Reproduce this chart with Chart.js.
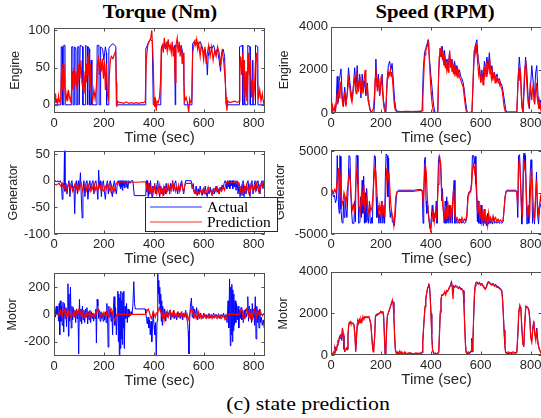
<!DOCTYPE html>
<html><head><meta charset="utf-8">
<script src="https://cdn.jsdelivr.net/npm/chart.js@4.4.1/dist/chart.umd.min.js"></script>
<style>
html,body{margin:0;padding:0;background:#fff;}
body{width:541px;height:418px;overflow:hidden;position:relative;}
canvas{position:absolute;}
.ttl{position:absolute;font-family:"Liberation Serif","Times New Roman",serif;font-weight:bold;font-size:18.5px;line-height:1;color:#000;white-space:nowrap;transform:translateX(-50%) scaleX(1.12);}
.cap{position:absolute;font-family:"Liberation Serif","Times New Roman",serif;font-size:19.5px;line-height:1;color:#000;white-space:nowrap;transform:translateX(-50%) scaleX(1.12);}
</style></head><body>
<div class="ttl" style="left:160px;top:3px">Torque (Nm)</div>
<div class="ttl" style="left:435px;top:3px">Speed (RPM)</div>
<div class="cap" style="left:308px;top:394px">(c) state prediction</div>
<script>
// ---------- axis ticks ----------
const TIME_TICKS = [0, 200, 400, 600, 800];
const TIME_MAX = 846;
const engineTorqueTicks = [0, 50, 100];
const generatorTorqueTicks = [-100, -50, 0, 50];
const motorTorqueTicks = [-200, 0, 200];
const engineSpeedTicks = [0, 2000, 4000];
const generatorSpeedTicks = [-5000, 0, 5000];
const motorSpeedTicks = [0, 2000, 4000];
const seriesNames = ['Actual', 'Prediction'];

// ---------- Engine torque (Nm) [time, value] ----------
const engineTorqueActual = [[0,0],[28,0],[29,78],[33,78],[34,0],[38,0],[39,80],[44,80],[45,0],[70,0],[71,78],[76,78],[77,0],[82,0],[83,78],[88,75],[89,0],[94,0],[95,78],[100,78],[101,0],[104,0],[105,80],[115,78],[116,0],[126,0],[127,80],[133,78],[134,0],[136,0],[137,78],[142,75],[143,0],[148,0],[149,60],[152,0],[172,0],[173,80],[180,80],[181,0],[186,0],[187,78],[195,75],[200,60],[206,78],[210,70],[211,0],[219,0],[220,76],[228,80],[236,82],[244,80],[248,78],[250,0],[366,0],[368,75],[374,80],[380,85],[388,88],[394,85],[398,0],[428,0],[431,78],[440,82],[447,75],[454,85],[462,78],[470,80],[478,75],[484,80],[486,0],[488,80],[496,78],[503,72],[510,80],[516,70],[520,65],[522,0],[553,0],[556,82],[562,85],[570,88],[578,80],[586,85],[594,78],[600,70],[606,75],[612,60],[615,40],[618,65],[625,78],[632,75],[640,80],[648,70],[655,75],[662,60],[668,45],[672,70],[678,75],[684,65],[690,0],[743,0],[744,78],[756,80],[757,0],[762,0],[763,60],[766,0],[776,0],[777,80],[786,78],[787,0],[796,0],[797,60],[799,0],[807,0],[808,80],[817,78],[818,0],[846,0]];
const engineTorquePredicted = [[0,12],[3,2],[6,15],[9,3],[12,8],[15,2],[18,12],[21,5],[24,3],[27,10],[30,40],[32,55],[34,20],[36,50],[38,30],[40,55],[43,25],[46,10],[48,5],[52,15],[55,5],[58,20],[62,10],[66,5],[70,15],[73,45],[76,20],[80,50],[84,25],[88,45],[92,20],[96,30],[100,55],[104,35],[108,60],[112,30],[116,20],[120,45],[124,15],[128,55],[131,30],[134,65],[137,40],[140,70],[143,20],[146,55],[150,15],[155,5],[160,20],[165,8],[170,25],[174,55],[178,62],[182,40],[186,60],[190,45],[194,62],[198,35],[202,60],[206,20],[210,55],[214,15],[218,5],[222,40],[226,60],[230,65],[236,62],[242,68],[247,72],[250,30],[252,-3],[255,5],[262,3],[270,3],[280,2],[290,4],[300,2],[310,3],[320,2],[330,3],[340,2],[350,3],[360,3],[366,5],[370,60],[376,80],[382,85],[388,90],[392,100],[395,80],[398,55],[401,10],[404,-3],[407,5],[410,-8],[413,5],[418,3],[423,10],[427,30],[430,75],[434,80],[438,70],[442,90],[446,78],[450,82],[454,72],[458,88],[462,75],[466,80],[470,70],[474,85],[478,65],[482,78],[486,30],[489,80],[494,90],[498,70],[502,85],[506,65],[510,80],[514,55],[518,70],[521,30],[524,5],[530,10],[535,3],[540,-10],[544,8],[548,3],[552,5],[556,70],[560,78],[564,85],[568,80],[572,88],[576,75],[580,82],[586,65],[590,80],[596,72],[600,60],[605,78],[610,55],[615,70],[620,80],[626,65],[632,78],[638,60],[644,72],[650,65],[656,78],[662,70],[668,55],[674,72],[680,60],[686,35],[690,10],[693,-8],[697,5],[705,3],[715,4],[725,5],[735,3],[742,5],[745,55],[748,65],[752,40],[756,70],[760,20],[763,60],[766,10],[770,45],[773,5],[776,20],[780,70],[784,40],[788,60],[792,10],[796,35],[800,5],[804,25],[808,60],[812,70],[816,30],[820,8],[825,20],[830,5],[835,15],[840,3],[846,8]];

// ---------- Engine speed (RPM) ----------
const engineSpeedActual = [[0,1000],[2,100],[5,0],[10,200],[15,100],[20,300],[25,1700],[28,500],[33,1500],[40,2050],[45,800],[50,300],[55,1200],[60,400],[65,900],[70,2100],[75,1500],[80,1000],[85,600],[90,1300],[95,2100],[100,1200],[105,2200],[110,1000],[115,1800],[120,700],[125,1800],[130,1000],[135,1500],[140,800],[145,1400],[150,500],[155,300],[160,0],[172,0],[175,600],[180,2500],[185,1200],[190,1800],[195,800],[200,1300],[205,1800],[210,600],[215,300],[220,0],[225,1500],[230,2200],[235,2400],[240,2000],[245,2300],[250,1500],[255,600],[260,200],[265,80],[280,60],[300,80],[320,60],[340,80],[360,70],[365,100],[370,2000],[375,2800],[380,3000],[385,3200],[390,3400],[395,2500],[400,1800],[405,1200],[410,500],[415,100],[420,0],[428,0],[432,2000],[438,3000],[442,2600],[446,3100],[450,2400],[455,2900],[460,2300],[465,2500],[470,2100],[475,2800],[480,2200],[485,2500],[490,2000],[495,2400],[500,1900],[505,2200],[510,1800],[515,2000],[520,1700],[525,1600],[530,1400],[535,1000],[540,500],[545,100],[550,0],[565,0],[570,1500],[575,2800],[580,3200],[585,3400],[590,2500],[595,2200],[600,1600],[605,2000],[610,1500],[615,2400],[620,2000],[625,2600],[630,2100],[635,2800],[640,1900],[645,2200],[650,1700],[655,1900],[660,1600],[665,1800],[670,1500],[675,1600],[680,1400],[685,1300],[690,1000],[695,600],[700,200],[705,0],[745,0],[750,1500],[755,2600],[760,1800],[765,400],[770,0],[775,1200],[780,2600],[785,2000],[790,800],[795,200],[800,1200],[805,2200],[810,1500],[815,500],[820,1800],[825,2200],[830,800],[835,200],[840,600],[846,300]];
const engineSpeedPredicted = [[0,200],[3,100],[6,350],[9,150],[12,100],[15,300],[18,100],[21,500],[24,900],[27,400],[30,1100],[33,700],[36,1300],[39,1400],[42,900],[45,600],[48,300],[51,700],[54,1000],[57,500],[60,300],[64,800],[68,1200],[71,1600],[74,1300],[77,1000],[80,700],[84,500],[88,900],[92,1500],[95,1600],[98,1100],[101,900],[104,1900],[107,1400],[110,1000],[113,1500],[116,1700],[119,900],[122,1200],[125,1500],[128,900],[131,1300],[134,1700],[137,2000],[140,1200],[143,1000],[146,1300],[149,600],[152,400],[155,200],[158,100],[162,50],[166,100],[170,200],[174,800],[177,1600],[180,2100],[183,1500],[186,1000],[189,1600],[192,1300],[195,800],[198,1200],[201,1700],[204,1400],[207,900],[210,500],[213,200],[216,100],[220,200],[223,1000],[226,1600],[229,1900],[232,1700],[235,1800],[238,2000],[241,1700],[244,1900],[247,1500],[250,1000],[253,500],[256,200],[260,100],[265,50],[275,80],[290,50],[310,80],[330,60],[350,80],[365,100],[368,600],[371,1500],[374,2300],[377,2700],[380,2900],[383,3000],[386,3100],[389,3300],[392,3000],[395,2300],[398,1600],[401,1000],[404,600],[407,300],[410,100],[415,50],[420,0],[428,50],[431,1500],[434,2600],[437,3000],[440,2800],[443,3100],[446,2500],[449,2900],[452,2200],[455,2700],[458,2100],[461,2400],[464,2000],[467,2300],[470,1900],[473,2400],[476,2900],[479,2100],[482,2500],[485,1900],[488,2300],[491,1800],[494,2200],[497,1700],[500,2100],[503,1800],[506,2000],[509,1600],[512,1900],[515,1700],[518,1600],[521,1500],[524,1400],[527,1300],[530,1200],[533,900],[536,600],[539,300],[542,100],[546,0],[565,50],[568,900],[571,2000],[574,2900],[577,3100],[580,2800],[583,3200],[586,2700],[589,2200],[592,1800],[595,2100],[598,1600],[601,1400],[604,1900],[607,1500],[610,1300],[613,2100],[616,1800],[619,2200],[622,1700],[625,2400],[628,1900],[631,2100],[634,2500],[637,1800],[640,2000],[643,1600],[646,1900],[649,1500],[652,1700],[655,1800],[658,1400],[661,1600],[664,1500],[667,1700],[670,1400],[673,1500],[676,1300],[679,1400],[682,1200],[685,1100],[688,900],[691,600],[694,300],[697,150],[700,50],[745,50],[748,900],[751,1800],[754,2100],[757,1500],[760,1900],[763,800],[766,200],[769,100],[772,900],[775,1600],[778,2200],[781,2400],[784,1600],[787,1000],[790,500],[793,300],[796,800],[799,1400],[802,900],[805,600],[808,1100],[811,1300],[814,700],[817,400],[820,1000],[823,1400],[826,800],[829,500],[832,300],[835,600],[838,400],[841,200],[846,400]];

// ---------- Generator torque (Nm) ----------
const generatorTorqueActual = [[0,0],[5,0],[10,-2],[15,0],[20,-3],[25,0],[30,-5],[33,-35],[36,-5],[40,-10],[42,57],[44,-20],[48,-5],[52,-25],[56,-10],[60,0],[64,-30],[68,-5],[72,0],[76,-20],[80,-10],[83,-62],[86,-10],[90,0],[94,-25],[98,0],[102,-15],[106,15],[109,-25],[113,-70],[116,-20],[120,0],[124,-30],[128,-5],[132,0],[136,-35],[140,-10],[144,0],[148,-20],[152,-5],[156,0],[160,-25],[164,-5],[168,0],[172,-15],[176,-35],[179,20],[182,-10],[186,0],[190,-30],[194,-5],[198,0],[202,-20],[206,-35],[210,-10],[214,0],[218,-25],[222,-5],[226,0],[230,-20],[234,-30],[238,-10],[242,0],[246,-15],[250,-25],[254,-5],[258,0],[262,-10],[264,0],[266,-15],[268,0],[270,-12],[272,0],[274,-18],[276,0],[278,-10],[280,0],[284,-14],[286,0],[290,-12],[292,0],[296,-15],[300,0],[305,-5],[310,0],[316,0],[322,-28],[368,-28],[370,0],[372,-20],[375,0],[378,-30],[381,-5],[384,-25],[387,0],[390,-20],[393,-30],[396,-10],[400,-15],[404,-5],[408,-25],[412,-10],[416,0],[420,-20],[424,-30],[428,-10],[432,-25],[436,-15],[440,-28],[444,-10],[448,-25],[452,-5],[456,-20],[460,-10],[464,-25],[468,-5],[472,-15],[476,0],[480,-20],[484,-5],[488,0],[492,-15],[496,-25],[500,-10],[504,-20],[508,-5],[512,0],[516,-15],[520,-25],[524,-10],[528,0],[550,0],[554,-15],[558,-5],[562,-20],[566,-25],[570,-10],[574,-28],[578,-15],[582,-25],[586,-10],[590,-20],[594,-28],[598,-15],[602,-25],[606,-10],[610,-22],[614,-30],[618,-18],[622,-25],[626,-12],[630,-22],[634,-28],[638,-15],[642,-25],[646,-18],[650,-10],[654,-22],[658,-15],[662,-25],[666,-12],[670,-20],[674,-8],[678,-15],[682,-5],[686,0],[690,-5],[693,-15],[696,0],[699,-12],[702,0],[705,-15],[708,0],[711,-10],[714,0],[717,-15],[720,0],[723,-12],[726,0],[730,-18],[734,0],[738,-25],[742,-5],[746,-30],[750,-10],[754,-28],[758,0],[762,-30],[766,-10],[770,-25],[774,-5],[778,0],[782,-20],[786,-30],[790,-5],[794,0],[798,-25],[802,-10],[806,0],[810,-20],[814,-5],[818,0],[822,-15],[826,-25],[830,-5],[834,0],[838,-15],[842,0],[846,-5]];
const generatorTorquePredicted = [[0,-6],[10,-8],[20,-5],[30,-12],[35,-5],[40,-15],[45,-8],[50,-18],[55,-10],[60,-5],[65,-15],[70,-8],[75,-20],[80,-12],[85,-5],[90,-15],[95,-8],[100,-18],[105,-10],[110,-5],[115,-20],[120,-12],[125,-8],[130,-18],[135,-5],[140,-12],[145,-20],[150,-10],[155,-15],[160,-5],[165,-18],[170,-10],[175,-20],[180,-8],[185,-15],[190,-5],[195,-18],[200,-20],[205,-10],[210,-15],[215,-5],[220,-12],[225,-20],[230,-8],[235,-15],[240,-22],[245,-12],[250,-5],[255,-2],[260,-3],[300,-2],[320,-3],[330,-3],[360,-2],[368,-3],[372,-15],[376,-20],[380,-8],[384,-22],[388,-12],[392,-25],[396,-15],[400,-22],[404,-10],[408,-18],[412,-25],[416,-12],[420,-20],[424,-8],[428,-22],[432,-15],[436,-25],[440,-12],[444,-20],[448,-10],[452,-22],[456,-15],[460,-8],[464,-20],[468,-12],[472,-18],[476,-5],[480,-15],[484,-10],[488,-20],[492,-12],[496,-18],[500,-8],[504,-20],[508,-12],[512,-5],[516,-15],[520,-20],[524,-10],[528,-5],[550,-5],[554,-10],[558,-15],[562,-22],[566,-18],[570,-25],[576,-20],[582,-25],[588,-18],[594,-22],[600,-15],[606,-25],[612,-20],[618,-12],[624,-22],[630,-18],[636,-25],[642,-15],[648,-20],[654,-12],[660,-22],[666,-15],[672,-20],[678,-12],[684,-18],[688,-8],[692,-3],[740,-3],[744,-12],[748,-20],[752,-10],[756,-18],[760,-25],[764,-12],[768,-20],[772,-8],[776,-15],[780,-22],[784,-10],[788,-18],[792,-5],[796,-15],[800,-20],[804,-10],[808,-18],[812,-5],[816,-12],[820,-20],[824,-10],[828,-15],[832,-5],[836,-10],[840,-3],[846,-5]];

// ---------- Generator speed (RPM) ----------
const generatorSpeedActual = [[0,3800],[2,300],[6,0],[10,-500],[14,-300],[18,-1200],[22,-800],[25,4500],[28,4500],[30,-1500],[33,-2500],[35,4500],[38,4400],[40,-2000],[44,-3600],[48,-3700],[50,-1000],[53,-3000],[56,-500],[60,-2000],[64,-3000],[68,0],[72,4500],[76,4400],[79,500],[82,-2000],[86,-3700],[92,-3700],[95,-1000],[98,-3500],[101,4500],[106,4500],[108,1000],[111,-3700],[116,-3600],[119,-500],[122,-3000],[125,1500],[128,-2500],[131,2000],[134,-3700],[137,0],[140,-3600],[143,500],[146,-3000],[150,-3700],[154,-1000],[157,-3500],[160,-3700],[163,-3000],[166,-3700],[170,1000],[174,4500],[178,4400],[181,-500],[184,-3000],[188,-1500],[192,-3700],[196,-2500],[200,-3700],[204,-1000],[208,-3700],[212,-2000],[215,-3700],[218,2000],[221,4700],[225,4500],[228,-500],[231,4200],[234,-1500],[238,-3000],[242,-2000],[246,-3500],[250,-3700],[254,-4000],[258,-2500],[262,-500],[266,200],[270,300],[300,300],[330,300],[360,400],[366,300],[369,-3700],[372,-500],[375,4000],[378,4300],[381,-1000],[384,-2500],[388,-1500],[392,-3000],[396,-4300],[399,-4500],[402,-3000],[406,-1500],[410,-3500],[414,-2500],[418,-3000],[422,-1000],[425,-3700],[428,500],[431,4000],[434,4500],[437,4500],[440,3000],[444,-1000],[447,500],[450,-2000],[454,-3700],[458,-1000],[461,-3700],[464,-500],[467,-3500],[470,-3700],[474,-1500],[478,-3700],[482,-2000],[486,-3700],[490,0],[494,1500],[497,-3700],[501,-3000],[505,-3700],[510,-3600],[515,-3700],[520,-3200],[525,-3700],[530,-3500],[535,-3700],[540,-3600],[545,-3000],[548,-500],[552,0],[556,200],[560,200],[564,1500],[567,4500],[572,4500],[575,3500],[578,4400],[581,1000],[584,-500],[587,-3500],[590,-1000],[593,-3700],[596,-2500],[599,-3800],[602,-1500],[605,-3700],[608,-3000],[611,-4000],[614,-2000],[617,-3700],[620,-3000],[624,-4000],[628,-2500],[632,-3800],[636,-3000],[640,-3700],[644,-3500],[648,-3800],[652,-3000],[656,-3700],[660,-3500],[665,-3700],[670,-3500],[675,-3700],[680,-3600],[685,-3700],[690,-3500],[694,-2000],[698,-500],[702,200],[706,300],[740,300],[745,200],[749,-3000],[752,4500],[756,4600],[759,2000],[762,-500],[765,-3800],[768,-2000],[771,4000],[774,4800],[777,3000],[780,4500],[783,-1000],[786,-3800],[790,-2000],[793,-3700],[796,0],[799,2500],[802,4000],[805,2000],[808,-3700],[812,-2000],[816,-3800],[820,-1000],[824,2500],[828,-2500],[832,-3800],[836,-2000],[840,-1500],[846,-1000]];
const generatorSpeedPredicted = [[0,400],[5,300],[10,0],[15,400],[20,0],[25,1500],[30,3000],[33,500],[36,2500],[40,-500],[44,-1500],[48,-1000],[52,0],[56,-500],[60,-1500],[65,200],[70,1500],[74,2500],[78,1000],[82,-1000],[86,-2000],[90,-1500],[95,-2500],[100,1500],[104,3000],[108,2000],[112,-1500],[116,-2500],[120,-1000],[124,500],[128,-1500],[132,1000],[136,-2000],[140,-1500],[144,-500],[148,-2000],[152,-2500],[156,-1500],[160,-2200],[164,-1800],[168,-500],[172,1500],[176,3000],[180,2500],[184,0],[188,-1500],[192,-2500],[196,-1500],[200,-2500],[204,-1000],[208,-2800],[212,-1500],[216,-3000],[220,500],[224,3000],[228,1500],[232,2500],[236,500],[240,-1500],[244,-2500],[248,-3000],[252,-4000],[256,-2500],[260,-500],[264,100],[268,150],[300,200],[330,150],[360,300],[366,200],[370,-1500],[374,1500],[378,3500],[382,2500],[386,-500],[390,-2500],[394,-3500],[398,-4000],[400,-4800],[403,-3500],[406,-3000],[410,-2000],[414,-3500],[418,-2500],[422,-3000],[426,-1500],[430,1000],[433,3500],[436,4300],[440,3500],[444,0],[448,-1500],[452,-2500],[456,-3000],[460,-1500],[464,-3200],[468,-1000],[472,-2500],[476,-3500],[480,-1500],[484,-3000],[488,-1000],[492,500],[496,-2500],[500,-3300],[505,-3000],[510,-3500],[515,-3200],[520,-3500],[525,-3000],[530,-3500],[535,-3200],[540,-3400],[545,-2500],[550,-500],[555,0],[560,100],[564,1000],[568,3000],[572,3500],[576,2500],[580,3500],[584,500],[588,-2500],[592,-1500],[596,-3000],[600,-2000],[604,-3500],[608,-2500],[612,-3800],[616,-2000],[620,-3500],[624,-3000],[628,-4000],[632,-2500],[636,-3500],[640,-3000],[645,-3500],[650,-2800],[655,-3300],[660,-3000],[665,-3500],[670,-3200],[675,-3500],[680,-3300],[685,-3500],[690,-3300],[694,-2000],[698,-500],[702,100],[706,200],[740,200],[745,100],[749,-1500],[752,3500],[756,4000],[760,1500],[764,-2000],[768,-3000],[772,2500],[776,3500],[780,2500],[784,-500],[788,-3000],[792,-1500],[796,-3200],[800,500],[804,3000],[808,1000],[812,-2500],[816,-3000],[820,-500],[824,1500],[828,-1500],[832,-2500],[836,-1500],[840,-500],[846,-1500]];

// ---------- Motor torque (Nm) ----------
const motorTorqueActual = [[0,0],[3,50],[6,-20],[9,60],[12,0],[15,60],[18,-50],[21,80],[23,-150],[25,100],[28,-50],[30,60],[33,-80],[36,90],[39,-130],[42,80],[45,-30],[48,50],[50,-90],[53,40],[56,225],[58,-160],[60,150],[63,-50],[66,200],[69,-100],[72,60],[75,-40],[78,50],[81,-20],[84,30],[87,-60],[90,40],[93,-30],[96,20],[99,-290],[102,110],[105,-50],[108,40],[111,-70],[114,60],[117,-40],[120,30],[123,-60],[126,40],[129,-20],[132,50],[135,-70],[138,20],[141,-40],[144,30],[147,-60],[150,20],[153,-30],[156,10],[159,-50],[162,0],[165,-30],[168,40],[170,-210],[173,110],[176,60],[179,-30],[182,30],[185,-50],[188,20],[191,-30],[194,10],[197,-50],[200,0],[203,-40],[206,20],[209,-60],[212,80],[215,-40],[217,-240],[220,60],[223,-20],[226,30],[229,-50],[232,20],[235,-150],[238,40],[241,130],[244,-80],[247,50],[250,-150],[253,0],[256,170],[258,-200],[260,150],[262,-300],[264,120],[266,-250],[268,170],[270,-180],[272,100],[274,-220],[276,160],[278,-100],[280,170],[282,-250],[285,60],[288,-30],[291,80],[294,-60],[297,40],[300,-20],[303,30],[306,-10],[309,20],[312,0],[316,60],[320,240],[323,80],[326,40],[330,40],[365,40],[368,10],[371,-30],[374,-70],[377,-20],[380,-100],[383,-40],[386,-150],[389,-50],[392,-200],[395,-80],[398,20],[401,-80],[404,-150],[407,-60],[410,-300],[413,-50],[416,300],[418,150],[420,250],[422,80],[424,200],[426,20],[428,150],[430,-50],[432,100],[434,-80],[436,60],[440,-30],[444,40],[448,-50],[452,20],[456,-20],[460,10],[464,30],[468,-40],[472,10],[476,-20],[480,30],[484,-30],[488,0],[492,-40],[496,20],[500,-20],[504,10],[508,-30],[512,20],[516,-40],[520,10],[524,-20],[528,30],[532,-30],[536,-60],[538,-120],[541,-290],[544,-40],[547,60],[551,120],[554,-20],[557,60],[560,-30],[564,40],[568,-20],[572,50],[576,-40],[580,20],[584,-30],[588,10],[592,-20],[596,-30],[600,10],[605,-20],[610,0],[615,-25],[620,5],[625,-30],[630,0],[635,-20],[640,10],[645,-25],[650,0],[655,-20],[660,5],[665,-30],[670,0],[675,-20],[680,10],[685,-30],[690,0],[694,-60],[698,100],[701,-100],[704,260],[707,-230],[709,200],[711,-150],[713,220],[715,-200],[717,180],[719,-120],[721,150],[723,-80],[726,100],[729,-60],[732,80],[735,-40],[738,60],[741,-100],[744,30],[747,-30],[750,50],[753,-40],[756,20],[759,-60],[762,30],[765,-30],[768,40],[771,-20],[774,10],[777,130],[780,-50],[783,60],[786,-30],[789,40],[792,-60],[795,80],[798,-20],[801,40],[804,-80],[807,130],[810,-180],[813,60],[816,-60],[819,30],[822,-100],[825,40],[828,-60],[831,-20],[835,-80],[839,-40],[843,-100],[846,-60]];
const motorTorquePredicted = [[0,0],[10,0],[15,5],[20,-10],[25,30],[28,0],[32,-15],[36,20],[40,40],[44,10],[48,-20],[52,10],[56,-10],[60,30],[64,0],[68,-20],[72,10],[76,-5],[80,20],[84,-10],[88,0],[92,30],[96,10],[100,40],[104,20],[108,0],[112,-15],[116,20],[120,0],[124,-20],[128,10],[132,-10],[136,15],[140,-5],[144,10],[148,-20],[152,0],[156,-10],[160,5],[164,-15],[168,0],[172,20],[176,45],[180,30],[184,0],[188,-15],[192,10],[196,-5],[200,15],[204,0],[208,-10],[212,20],[216,0],[220,-20],[224,10],[228,45],[232,30],[236,0],[240,-30],[244,-45],[248,-20],[252,0],[256,0],[300,0],[330,0],[366,0],[370,10],[374,30],[378,40],[382,20],[386,-10],[390,-30],[394,-10],[398,20],[402,0],[406,-20],[410,10],[414,0],[418,30],[422,50],[426,30],[430,10],[434,-20],[438,20],[442,-40],[446,10],[450,-10],[454,20],[458,-20],[462,0],[466,25],[470,-10],[474,10],[478,-20],[482,15],[486,-10],[490,5],[494,-15],[498,10],[502,-20],[506,0],[510,15],[514,-10],[518,5],[522,-15],[526,10],[530,-20],[534,0],[538,-40],[542,-20],[546,20],[550,40],[554,30],[558,0],[562,-20],[566,10],[570,-30],[574,-10],[578,20],[582,-20],[586,0],[590,-30],[594,-10],[598,-25],[602,0],[606,-20],[610,-30],[614,-10],[618,-25],[622,0],[626,-20],[630,-10],[634,-30],[638,-15],[642,-25],[646,-5],[650,-20],[654,-30],[658,-10],[662,-25],[666,-15],[670,-30],[674,-20],[678,-5],[682,-20],[686,-40],[690,-30],[694,0],[700,0],[740,0],[744,10],[748,30],[752,40],[756,0],[760,-40],[764,-20],[768,10],[772,40],[776,20],[780,-10],[784,30],[788,-20],[792,10],[796,-30],[800,20],[804,40],[808,0],[812,-20],[816,30],[820,10],[824,-10],[828,20],[832,0],[836,-10],[840,5],[846,0]];

// ---------- Motor speed (RPM) ----------
const motorSpeedActual = [[0,0],[5,50],[10,100],[13,80],[16,400],[19,250],[22,200],[25,450],[28,700],[31,600],[34,900],[37,800],[40,1000],[43,700],[46,1300],[49,900],[52,300],[55,150],[58,200],[62,300],[65,250],[68,900],[71,1400],[74,1600],[77,1550],[80,1600],[84,1500],[88,1550],[92,1450],[96,1000],[99,200],[102,700],[105,1400],[108,1700],[111,1500],[114,1650],[117,1600],[120,1700],[124,1650],[128,1800],[132,1750],[136,1800],[140,1850],[144,1800],[148,1850],[152,1800],[156,1700],[160,1500],[163,1000],[166,500],[169,200],[172,200],[175,800],[178,1800],[181,1950],[184,1900],[188,2000],[192,1950],[196,2050],[200,2100],[204,2000],[208,2100],[211,1900],[214,1000],[217,0],[220,200],[223,1200],[226,1900],[230,2000],[234,2200],[238,2300],[242,2500],[246,2600],[249,2550],[252,2000],[255,1000],[258,300],[261,100],[264,0],[268,100],[272,50],[276,100],[280,0],[284,80],[288,50],[292,0],[296,80],[300,50],[305,0],[310,50],[320,80],[330,60],[340,70],[350,60],[360,80],[365,100],[368,600],[371,1200],[374,1800],[377,2300],[380,2700],[383,2900],[386,3100],[389,3300],[392,3400],[395,3300],[398,2800],[401,2000],[404,1000],[407,300],[410,100],[413,0],[418,50],[422,0],[428,50],[432,100],[435,1000],[438,2000],[441,2600],[444,2900],[448,2850],[452,2950],[456,3000],[460,2950],[464,3050],[468,3100],[472,3150],[476,3250],[480,3400],[483,3550],[486,3300],[489,3250],[492,3350],[496,3300],[500,3350],[505,3300],[510,3250],[515,3300],[520,3200],[525,3200],[530,3100],[533,2500],[536,1500],[539,600],[542,100],[546,50],[550,100],[554,50],[558,100],[562,150],[564,800],[566,150],[569,600],[572,1800],[575,2800],[578,3300],[581,3500],[585,3500],[590,3450],[595,3500],[600,3400],[605,3450],[610,3350],[615,3250],[619,3200],[623,3300],[627,3450],[631,3550],[635,3500],[640,3450],[645,3400],[650,3450],[655,3350],[660,3400],[665,3300],[670,3300],[675,3250],[680,3200],[685,3100],[688,2700],[691,2000],[694,1200],[697,500],[700,100],[705,50],[710,80],[720,50],[730,100],[740,80],[745,100],[749,900],[753,2000],[757,2350],[761,2300],[765,1400],[769,600],[773,400],[777,1500],[781,2300],[785,2350],[789,2300],[793,2200],[797,1800],[801,900],[805,700],[809,1300],[813,1600],[817,1100],[821,800],[825,1300],[829,700],[833,400],[837,200],[841,150],[846,100]];
const motorSpeedPredicted = [[0,100],[5,0],[10,150],[13,100],[16,350],[19,200],[22,250],[25,500],[28,650],[31,700],[34,850],[37,950],[40,900],[43,800],[46,1300],[49,1000],[52,350],[55,200],[58,250],[62,350],[65,300],[68,1000],[71,1450],[74,1550],[77,1600],[80,1500],[84,1550],[88,1500],[92,1450],[96,900],[99,150],[102,800],[105,1500],[108,1650],[111,1550],[114,1700],[117,1550],[120,1750],[124,1600],[128,1850],[132,1700],[136,1850],[140,1800],[144,1850],[148,1800],[152,1850],[156,1650],[160,1450],[163,900],[166,450],[169,150],[172,250],[175,900],[178,1850],[181,1900],[184,1950],[188,1950],[192,2000],[196,2000],[200,2100],[204,2050],[208,2050],[211,1850],[214,900],[217,50],[220,250],[223,1300],[226,1850],[230,2050],[234,2150],[238,2350],[242,2450],[246,2650],[249,2500],[252,1900],[255,900],[258,250],[261,150],[264,50],[268,150],[272,100],[276,200],[280,50],[284,150],[288,100],[292,50],[296,150],[300,100],[305,50],[310,100],[320,100],[330,50],[340,100],[350,80],[360,100],[365,150],[368,700],[371,1300],[374,1850],[377,2350],[380,2650],[383,2950],[386,3150],[389,3250],[392,3450],[395,3250],[398,2700],[401,1900],[404,900],[407,250],[410,150],[413,50],[418,100],[422,50],[428,100],[432,150],[435,1100],[438,2100],[441,2700],[444,2850],[448,2900],[452,2900],[456,3050],[460,2900],[464,3100],[468,3050],[472,3200],[476,3300],[480,3350],[483,3500],[486,3250],[489,2700],[492,3300],[496,3250],[500,3300],[505,3250],[510,3200],[515,3250],[520,3150],[525,3150],[530,3050],[533,2450],[536,1400],[539,500],[542,150],[546,100],[550,150],[554,100],[558,150],[562,200],[564,700],[566,200],[569,650],[572,1900],[575,2900],[578,3350],[581,3450],[585,3500],[590,3400],[595,3450],[600,3350],[605,3400],[610,3300],[615,3200],[619,3150],[623,3250],[627,3400],[631,3500],[635,3450],[640,3400],[645,3350],[650,3400],[655,3300],[660,3350],[665,3250],[670,3250],[675,3200],[680,3150],[685,3050],[688,2600],[691,1900],[694,1100],[697,450],[700,150],[705,100],[710,150],[720,100],[730,150],[740,100],[745,150],[749,1000],[753,2100],[757,2400],[761,2250],[765,1300],[769,500],[773,450],[777,1600],[781,2350],[785,2300],[789,2250],[793,2150],[797,1700],[801,800],[805,600],[809,1200],[813,1650],[817,1000],[821,700],[825,1200],[829,600],[833,350],[837,250],[841,100],[846,150]];

// ---------- rendering ----------
const SANS = '"Liberation Sans", Arial, Helvetica, sans-serif';
const SERIF = '"Liberation Serif", "Times New Roman", serif';
const TXT = '#262626';

const boxPlugin = {
  id: 'matlabBox',
  afterDatasetsDraw(chart) {
    const {ctx, chartArea: a, scales} = chart;
    ctx.save();
    ctx.strokeStyle = '#505050';
    ctx.lineWidth = 1;
    const L = Math.round(a.left) + 0.5, R = Math.round(a.right) - 0.5;
    const T = Math.round(a.top) + 0.5, B = Math.round(a.bottom) - 0.5;
    ctx.strokeRect(L, T, R - L, B - T);
    ctx.beginPath();
    scales.x.ticks.forEach(t => {
      const p = Math.round(scales.x.getPixelForValue(t.value)) + 0.5;
      ctx.moveTo(p, B); ctx.lineTo(p, B - 3);
      ctx.moveTo(p, T); ctx.lineTo(p, T + 3);
    });
    scales.y.ticks.forEach(t => {
      const p = Math.round(scales.y.getPixelForValue(t.value)) + 0.5;
      ctx.moveTo(L, p); ctx.lineTo(L + 3, p);
      ctx.moveTo(R, p); ctx.lineTo(R - 3, p);
    });
    ctx.stroke();
    ctx.restore();
  }
};

const legendPlugin = {
  id: 'boxLegend',
  afterDraw(chart) {
    const {ctx, chartArea: a} = chart;
    const L = Math.round(a.right) - 120, R = Math.round(a.right) + 12;
    const T = Math.round(a.bottom) - 37, B = Math.round(a.bottom) - 3;
    ctx.save();
    ctx.fillStyle = '#ffffff';
    ctx.fillRect(L, T, R - L, B - T);
    ctx.strokeStyle = '#262626';
    ctx.lineWidth = 1;
    ctx.strokeRect(L + 0.5, T + 0.5, R - L, B - T);
    chart.data.datasets.forEach((ds, i) => {
      const y = T + 10 + i * 15;
      ctx.globalAlpha = 0.55;
      ctx.strokeStyle = ds.borderColor;
      ctx.lineWidth = 1.5;
      ctx.beginPath(); ctx.moveTo(L + 5, y); ctx.lineTo(L + 57, y); ctx.stroke();
      ctx.globalAlpha = 1;
      ctx.fillStyle = '#000';
      ctx.font = '15.5px ' + SERIF;
      ctx.textBaseline = 'middle';
      ctx.textAlign = 'left';
      ctx.fillText(ds.label, L + 62, y + 1);
    });
    ctx.restore();
  }
};

const toXY = arr => arr.map(p => ({x: p[0], y: p[1]}));
const plainNum = v => String(v);

function panel(cfg) {
  const cv = document.createElement('canvas');
  const h = 8 + (cfg.bottom - cfg.top) + 34;
  cv.width = cfg.w; cv.height = h;
  cv.style.left = cfg.x + 'px';
  cv.style.top = (cfg.top - 8) + 'px';
  cv.style.width = cfg.w + 'px';
  cv.style.height = h + 'px';
  cv.style.zIndex = cfg.z;
  document.body.appendChild(cv);
  new Chart(cv, {
    type: 'line',
    data: {
      datasets: [
        {label: seriesNames[0], data: toXY(cfg.actual), borderColor: '#0000ff', borderWidth: 1, pointRadius: 0, tension: 0, order: 2},
        {label: seriesNames[1], data: toXY(cfg.predicted), borderColor: '#ff0000', borderWidth: 1.2, pointRadius: 0, tension: 0, order: 1}
      ]
    },
    options: {
      responsive: false,
      animation: false,
      devicePixelRatio: 1,
      events: [],
      layout: {padding: {left: 0, right: cfg.padR, top: 8, bottom: 0}},
      plugins: {legend: {display: false}, tooltip: {enabled: false}},
      scales: {
        x: {
          type: 'linear', min: 0, max: TIME_MAX,
          afterBuildTicks: s => { s.ticks = TIME_TICKS.map(v => ({value: v})); },
          afterFit: s => { s.height = 34; },
          grid: {display: false, drawTicks: false},
          border: {display: false},
          ticks: {padding: 3, autoSkip: false, maxRotation: 0, callback: plainNum, font: {family: SANS, size: 13}, color: TXT},
          title: {display: true, text: 'Time (sec)', font: {family: SANS, size: 15}, color: TXT, padding: 0}
        },
        y: {
          type: 'linear', min: cfg.ymin, max: cfg.ymax,
          afterBuildTicks: s => { s.ticks = cfg.yticks.map(v => ({value: v})); },
          afterFit: s => { s.width = cfg.yW; },
          grid: {display: false, drawTicks: false},
          border: {display: false},
          ticks: {padding: cfg.tickPad, autoSkip: false, callback: plainNum, font: {family: SANS, size: 13}, color: TXT},
          title: {display: true, text: cfg.ylabel, font: {family: SANS, size: 12.5}, color: TXT, padding: {top: cfg.titlePad, bottom: 0}}
        }
      }
    },
    plugins: cfg.legend ? [boxPlugin, legendPlugin] : [boxPlugin]
  });
}

// right column first (underneath), then left column
panel({x: 270, w: 280, padR: 8, yW: 61, tickPad: 3, z: 1, top: 24, bottom: 113, ymin: 0, ymax: 4000, yticks: engineSpeedTicks, ylabel: 'Engine', titlePad: 6.8, actual: engineSpeedActual, predicted: engineSpeedPredicted});
panel({x: 270, w: 280, padR: 8, yW: 61, tickPad: 3, z: 1, top: 147, bottom: 234, ymin: -5000, ymax: 5200, yticks: generatorSpeedTicks, ylabel: 'Generator', titlePad: 2.8, actual: generatorSpeedActual, predicted: generatorSpeedPredicted});
panel({x: 270, w: 280, padR: 8, yW: 61, tickPad: 3, z: 1, top: 269, bottom: 355, ymin: 0, ymax: 4000, yticks: motorSpeedTicks, ylabel: 'Motor', titlePad: 6, actual: motorSpeedActual, predicted: motorSpeedPredicted});
panel({x: 0, w: 280, padR: 15, yW: 54, tickPad: 4, z: 2, top: 24, bottom: 113, ymin: -11, ymax: 103.5, yticks: engineTorqueTicks, ylabel: 'Engine', titlePad: 8.5, actual: engineTorqueActual, predicted: engineTorquePredicted});
panel({x: 0, w: 280, padR: 15, yW: 54, tickPad: 4, z: 2, top: 147, bottom: 234, ymin: -100, ymax: 56, yticks: generatorTorqueTicks, ylabel: 'Generator', titlePad: 6.1, actual: generatorTorqueActual, predicted: generatorTorquePredicted, legend: true});
panel({x: 0, w: 280, padR: 15, yW: 54, tickPad: 4, z: 2, top: 269, bottom: 356, ymin: -305, ymax: 305, yticks: motorTorqueTicks, ylabel: 'Motor', titlePad: 5.1, actual: motorTorqueActual, predicted: motorTorquePredicted});
</script>
</body></html>
